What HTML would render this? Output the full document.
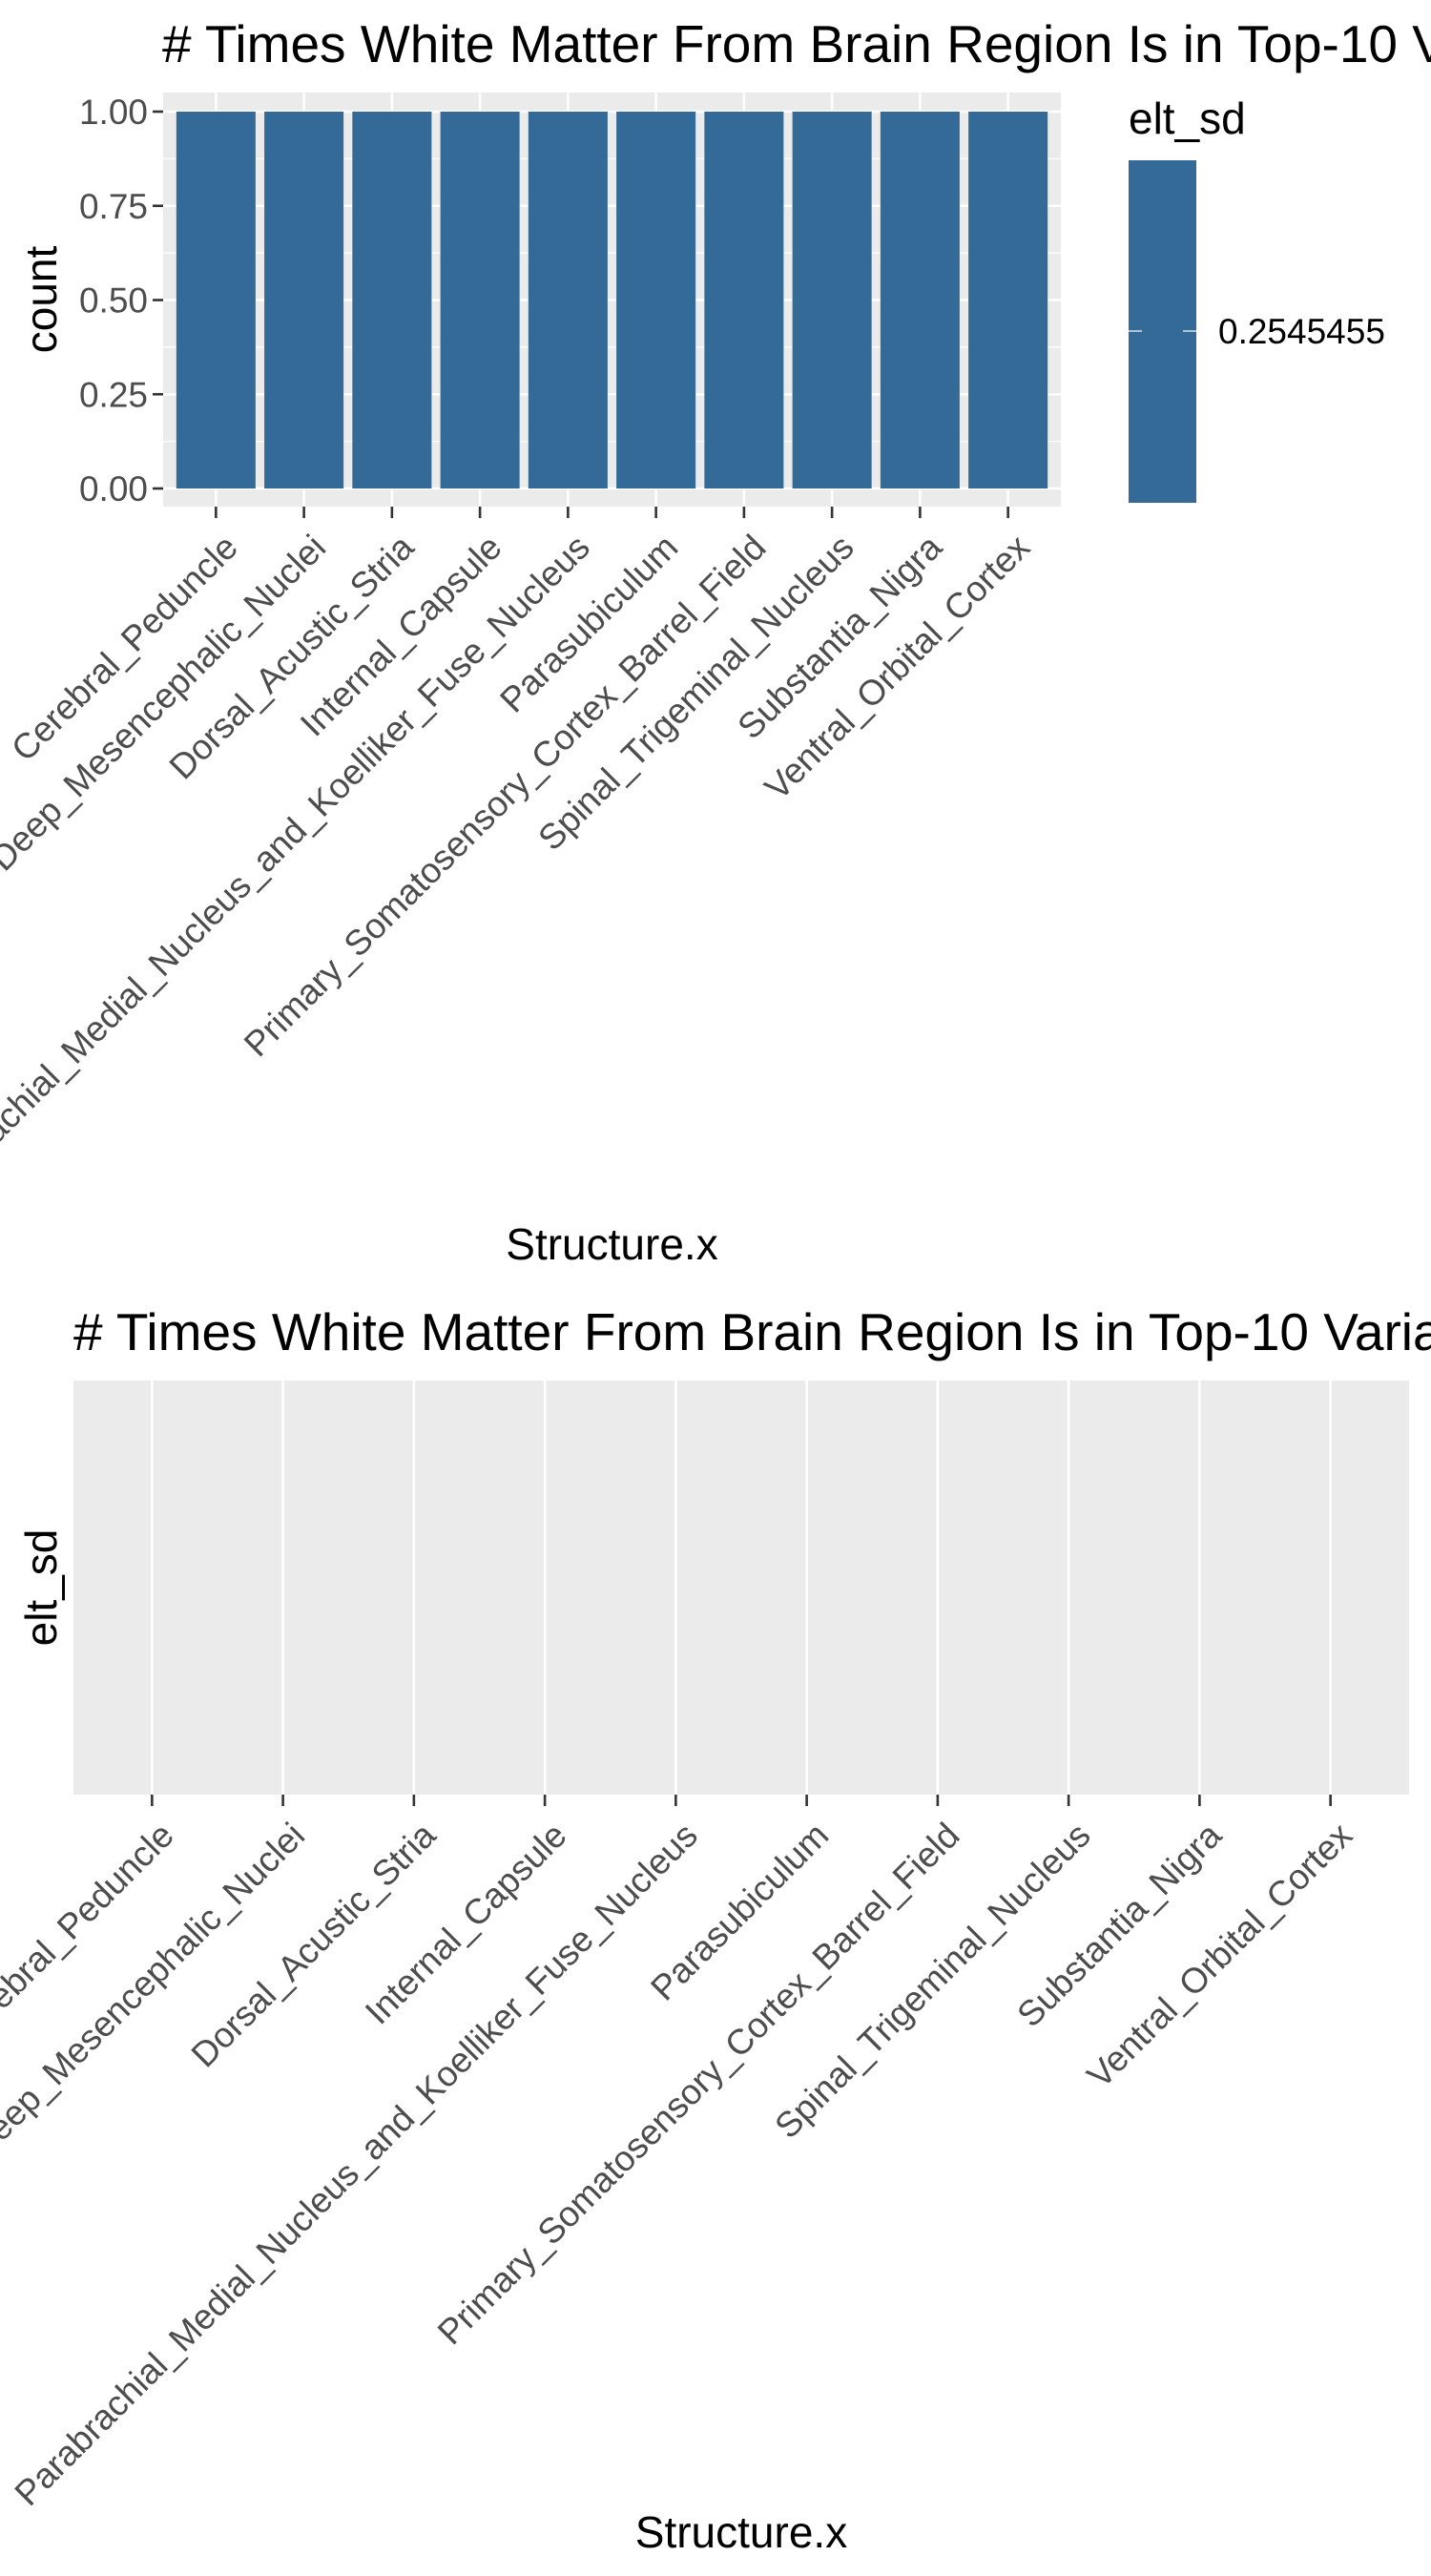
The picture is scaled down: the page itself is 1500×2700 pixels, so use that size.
<!DOCTYPE html>
<html><head><meta charset="utf-8"><style>
html,body{margin:0;padding:0;background:#fff;}
svg{display:block;font-family:"Liberation Sans",Arial,sans-serif;}
</style></head><body>
<svg id="chart" width="1500" height="2700" viewBox="0 0 1500 2700">
<g id="topchart"></g>
<g id="botchart"></g>
</svg>
<script>
const categories = ["Cerebral_Peduncle","Deep_Mesencephalic_Nuclei","Dorsal_Acustic_Stria","Internal_Capsule","Parabrachial_Medial_Nucleus_and_Koelliker_Fuse_Nucleus","Parasubiculum","Primary_Somatosensory_Cortex_Barrel_Field","Spinal_Trigeminal_Nucleus","Substantia_Nigra","Ventral_Orbital_Cortex"];
const counts = [1,1,1,1,1,1,1,1,1,1];
const yTicks = [0,0.25,0.5,0.75,1];
const yTickLabels = ["0.00","0.25","0.50","0.75","1.00"];
const legendValues = ["0.2545455"];
const titleText = "# Times White Matter From Brain Region Is in Top-10 Variance";

const NS="http://www.w3.org/2000/svg";
function mk(parent,tag,attrs,text){const e=document.createElementNS(NS,tag);for(const k in attrs)e.setAttribute(k,attrs[k]);if(text!==undefined)e.textContent=text;parent.appendChild(e);return e;}

// ---- top chart ----
const topG=document.getElementById('topchart');
const P1={l:171,r:1112,t:97,b:531};
const n=categories.length;
const step1=(P1.r-P1.l)/(n+0.2);
const x1=i=>P1.l+step1*(0.6+i);
const y1=v=>512+(117-512)*v;
let e;
e=mk(topG,'text',{x:170,y:65,'font-size':55,fill:'#000'},titleText);


e=mk(topG,'rect',{x:P1.l,y:P1.t,width:P1.r-P1.l,height:P1.b-P1.t,fill:'#EBEBEB'});


for(let k=0;k<yTicks.length-1;k++){
  const m=(yTicks[k]+yTicks[k+1])/2;
  e=mk(topG,'line',{x1:P1.l,x2:P1.r,y1:y1(m),y2:y1(m),stroke:'#fff','stroke-width':1.3});
  
  
}
yTicks.forEach((v,k)=>{
  e=mk(topG,'line',{x1:P1.l,x2:P1.r,y1:y1(v),y2:y1(v),stroke:'#fff','stroke-width':2.6});
  
  
  e=mk(topG,'line',{x1:P1.l-11,x2:P1.l,y1:y1(v),y2:y1(v),stroke:'#333','stroke-width':2.6});
  
  
  e=mk(topG,'text',{x:P1.l-16,y:y1(v)+13,'font-size':37,fill:'#4D4D4D','text-anchor':'end'},yTickLabels[k]);
  
  
});
categories.forEach((c,i)=>{
  e=mk(topG,'line',{x1:x1(i),x2:x1(i),y1:P1.t,y2:P1.b,stroke:'#fff','stroke-width':2.6});
  
  
});
categories.forEach((c,i)=>{
  const w=step1*0.9;
  e=mk(topG,'rect',{x:x1(i)-w/2,y:y1(counts[i]),width:w,height:y1(0)-y1(counts[i]),fill:'#336A98'});
  
  
  e=mk(topG,'line',{x1:x1(i),x2:x1(i),y1:P1.b,y2:P1.b+12,stroke:'#333','stroke-width':2.6});
  
  
  const px=x1(i)+25,py=P1.b+45;
  e=mk(topG,'text',{x:px,y:py,'font-size':37,fill:'#4D4D4D','text-anchor':'end',transform:`rotate(-45 ${px} ${py})`},c);
  
  
});
e=mk(topG,'text',{x:0,y:0,'font-size':46,fill:'#000','text-anchor':'middle',transform:`translate(59 ${(P1.t+P1.b)/2}) rotate(-90)`},'count');


e=mk(topG,'text',{x:(P1.l+P1.r)/2,y:1320,'font-size':46,fill:'#000','text-anchor':'middle'},'Structure.x');


// legend
e=mk(topG,'text',{x:1183,y:140,'font-size':46,fill:'#000'},'elt_sd');


e=mk(topG,'rect',{x:1183,y:168,width:71,height:359,fill:'#336A98'});


legendValues.forEach(v=>{
  e=mk(topG,'line',{x1:1183,x2:1197,y1:347,y2:347,stroke:'#fff','stroke-width':1.2});
  
  
  e=mk(topG,'line',{x1:1240,x2:1254,y1:347,y2:347,stroke:'#fff','stroke-width':1.2});
  
  
  e=mk(topG,'text',{x:1277,y:360,'font-size':37,fill:'#000'},v);
  
  
});

// ---- bottom chart ----
const botG=document.getElementById('botchart');
const P2={l:77,r:1477,t:1447,b:1881};
const step2=(P2.r-P2.l)/(n+0.2);
const x2=i=>P2.l+step2*(0.6+i);
e=mk(botG,'text',{x:77,y:1415,'font-size':55,fill:'#000'},titleText);


e=mk(botG,'rect',{x:P2.l,y:P2.t,width:P2.r-P2.l,height:P2.b-P2.t,fill:'#EBEBEB'});


categories.forEach((c,i)=>{
  e=mk(botG,'line',{x1:x2(i),x2:x2(i),y1:P2.t,y2:P2.b,stroke:'#fff','stroke-width':2.6});
  
  
  e=mk(botG,'line',{x1:x2(i),x2:x2(i),y1:P2.b,y2:P2.b+12,stroke:'#333','stroke-width':2.6});
  
  
  const px=x2(i)+25,py=P2.b+45;
  e=mk(botG,'text',{x:px,y:py,'font-size':37,fill:'#4D4D4D','text-anchor':'end',transform:`rotate(-45 ${px} ${py})`},c);
  
  
});
e=mk(botG,'text',{x:0,y:0,'font-size':46,fill:'#000','text-anchor':'middle',transform:`translate(59 ${(P2.t+P2.b)/2}) rotate(-90)`},'elt_sd');


e=mk(botG,'text',{x:(P2.l+P2.r)/2,y:2670,'font-size':46,fill:'#000','text-anchor':'middle'},'Structure.x');


</script>
</body></html>
